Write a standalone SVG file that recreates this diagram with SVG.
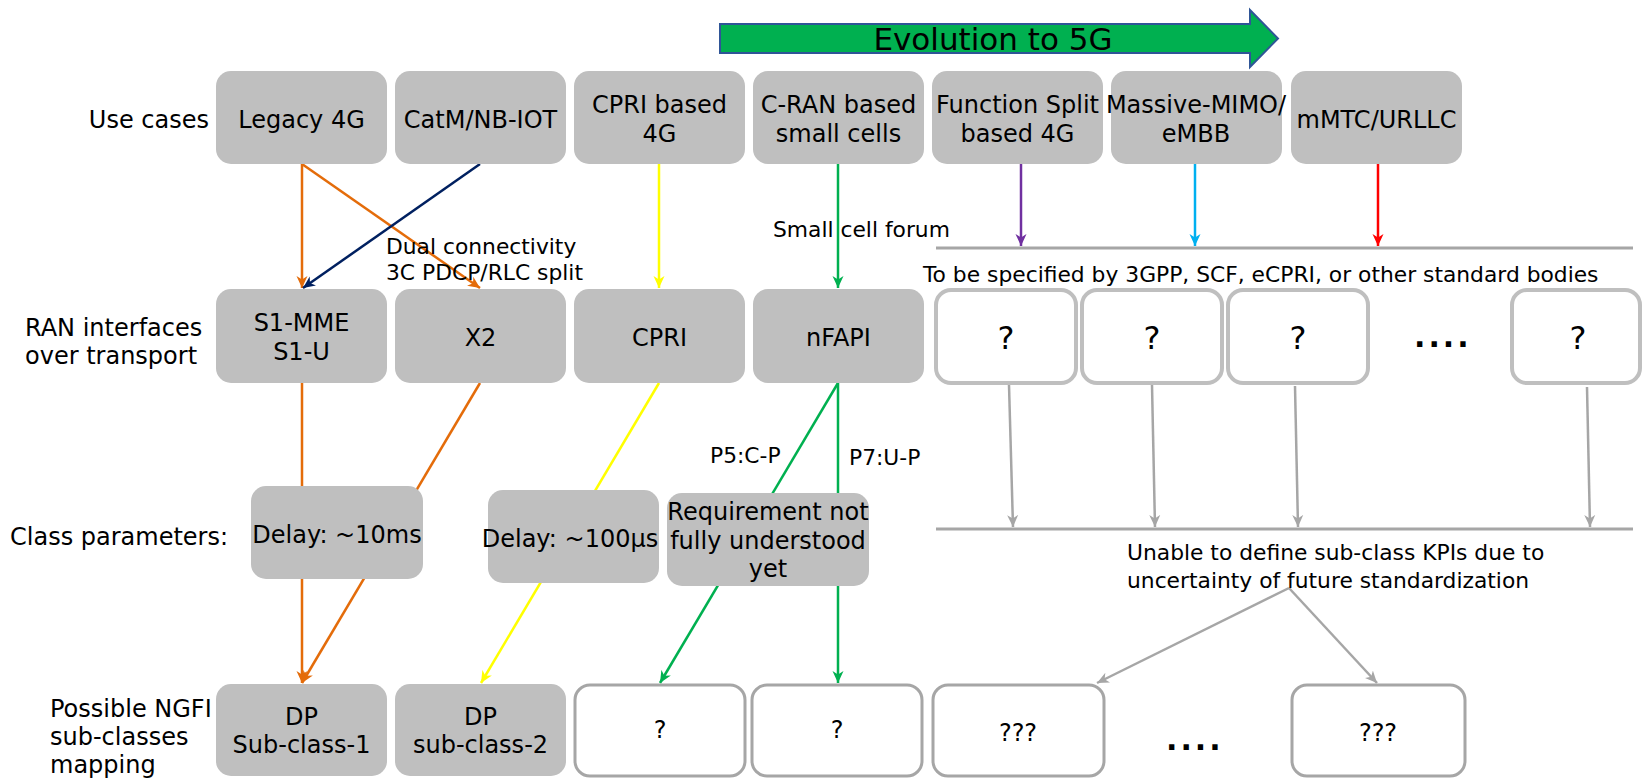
<svg xmlns="http://www.w3.org/2000/svg" width="1643" height="779" viewBox="0 0 1643 779">
<defs>
<style>
text{font-family:"DejaVu Sans",Verdana,sans-serif;fill:#000}
.t{font-size:24px}
.s{font-size:21.8px}
.c{text-anchor:middle}
.g{fill:#bfbfbf}
.w2{fill:#fff;stroke:#bfbfbf;stroke-width:4}
.w4{fill:#fff;stroke:#a6a6a6;stroke-width:3}
.ln{fill:none;stroke-width:2.5}
.dots{font-size:30px;font-weight:bold;letter-spacing:3px}
</style>
<marker id="aO" markerWidth="12" markerHeight="12" refX="12" refY="6" orient="auto" markerUnits="userSpaceOnUse"><path d="M0,0.5 L12,6 L0,11.5 L3.5,6 z" fill="#e46c0a"/></marker>
<marker id="aN" markerWidth="12" markerHeight="12" refX="12" refY="6" orient="auto" markerUnits="userSpaceOnUse"><path d="M0,0.5 L12,6 L0,11.5 L3.5,6 z" fill="#002060"/></marker>
<marker id="aY" markerWidth="12" markerHeight="12" refX="12" refY="6" orient="auto" markerUnits="userSpaceOnUse"><path d="M0,0.5 L12,6 L0,11.5 L3.5,6 z" fill="#ffff00"/></marker>
<marker id="aG" markerWidth="12" markerHeight="12" refX="12" refY="6" orient="auto" markerUnits="userSpaceOnUse"><path d="M0,0.5 L12,6 L0,11.5 L3.5,6 z" fill="#00b050"/></marker>
<marker id="aP" markerWidth="12" markerHeight="12" refX="12" refY="6" orient="auto" markerUnits="userSpaceOnUse"><path d="M0,0.5 L12,6 L0,11.5 L3.5,6 z" fill="#7030a0"/></marker>
<marker id="aC" markerWidth="12" markerHeight="12" refX="12" refY="6" orient="auto" markerUnits="userSpaceOnUse"><path d="M0,0.5 L12,6 L0,11.5 L3.5,6 z" fill="#00b0f0"/></marker>
<marker id="aR" markerWidth="12" markerHeight="12" refX="12" refY="6" orient="auto" markerUnits="userSpaceOnUse"><path d="M0,0.5 L12,6 L0,11.5 L3.5,6 z" fill="#ff0000"/></marker>
<marker id="aK" markerWidth="12" markerHeight="12" refX="12" refY="6" orient="auto" markerUnits="userSpaceOnUse"><path d="M0,0.5 L12,6 L0,11.5 L3.5,6 z" fill="#a6a6a6"/></marker>
</defs>
<rect width="1643" height="779" fill="#fff"/>

<g id="evolution">
<polygon points="720,24 1250,24 1250,10 1278,38.5 1250,67 1250,53 720,53" fill="#00b050" stroke="#2f5597" stroke-width="2"/>
<text x="993" y="50" class="c" style="font-size:31px">Evolution to 5G</text>
</g>

<g id="row-labels" class="t">
<text x="209" y="128" text-anchor="end">Use cases</text>
<text x="25" y="336">RAN interfaces</text>
<text x="25" y="364">over transport</text>
<text x="10" y="545">Class parameters:</text>
<text x="50" y="717">Possible NGFI</text>
<text x="50" y="745">sub-classes</text>
<text x="50" y="773">mapping</text>
</g>

<g id="guides" stroke="#a6a6a6" stroke-width="3">
<line x1="936" y1="248" x2="1633" y2="248"/>
<line x1="936" y1="529" x2="1633" y2="529"/>
</g>

<g id="connectors">
<line class="ln" x1="302" y1="164" x2="302" y2="288" stroke="#e46c0a" marker-end="url(#aO)"/>
<line class="ln" x1="302" y1="164" x2="480" y2="288" stroke="#e46c0a" marker-end="url(#aO)"/>
<line class="ln" x1="480" y1="164" x2="303" y2="288" stroke="#002060" marker-end="url(#aN)"/>
<line class="ln" x1="659" y1="164" x2="659" y2="288" stroke="#ffff00" marker-end="url(#aY)"/>
<line class="ln" x1="838" y1="164" x2="838" y2="288" stroke="#00b050" marker-end="url(#aG)"/>
<line class="ln" x1="1021" y1="164" x2="1021" y2="246" stroke="#7030a0" marker-end="url(#aP)"/>
<line class="ln" x1="1195" y1="164" x2="1195" y2="246" stroke="#00b0f0" marker-end="url(#aC)"/>
<line class="ln" x1="1378" y1="164" x2="1378" y2="246" stroke="#ff0000" marker-end="url(#aR)"/>

<line class="ln" x1="1009" y1="385" x2="1013" y2="527" stroke="#a6a6a6" marker-end="url(#aK)"/>
<line class="ln" x1="1152" y1="385" x2="1155" y2="527" stroke="#a6a6a6" marker-end="url(#aK)"/>
<line class="ln" x1="1295" y1="386" x2="1298" y2="527" stroke="#a6a6a6" marker-end="url(#aK)"/>
<line class="ln" x1="1587" y1="387" x2="1590" y2="527" stroke="#a6a6a6" marker-end="url(#aK)"/>

<line class="ln" x1="302" y1="383" x2="302" y2="683" stroke="#e46c0a" marker-end="url(#aO)"/>
<line class="ln" x1="480" y1="383" x2="302" y2="683" stroke="#e46c0a" marker-end="url(#aO)"/>
<line class="ln" x1="659" y1="383" x2="481" y2="683" stroke="#ffff00" marker-end="url(#aY)"/>
<line class="ln" x1="838" y1="383" x2="660" y2="683" stroke="#00b050" marker-end="url(#aG)"/>
<line class="ln" x1="838" y1="383" x2="838" y2="683" stroke="#00b050" marker-end="url(#aG)"/>

<line class="ln" x1="1289" y1="588" x2="1097" y2="683" stroke="#a6a6a6" marker-end="url(#aK)"/>
<line class="ln" x1="1289" y1="588" x2="1377" y2="683" stroke="#a6a6a6" marker-end="url(#aK)"/>

<g class="s">
<text x="773" y="237">Small cell forum</text>
<text x="386" y="254">Dual connectivity</text>
<text x="386" y="280">3C PDCP/RLC split</text>
<text x="923" y="282">To be specified by 3GPP, SCF, eCPRI, or other standard bodies</text>
<text x="710" y="463">P5:C-P</text>
<text x="849" y="465">P7:U-P</text>
<text x="1127" y="560">Unable to define sub-class KPIs due to</text>
<text x="1127" y="588">uncertainty of future standardization</text>
</g>
</g>

<g id="uc-legacy4g"><rect class="g" x="216" y="71" width="171" height="93" rx="15"/><text class="t c" x="301.5" y="128">Legacy 4G</text></g>
<g id="uc-catm"><rect class="g" x="395" y="71" width="171" height="93" rx="15"/><text class="t c" x="480.5" y="128">CatM/NB-IOT</text></g>
<g id="uc-cpri4g"><rect class="g" x="574" y="71" width="171" height="93" rx="15"/><text class="t c" x="659.5" y="113">CPRI based</text><text class="t c" x="659.5" y="142">4G</text></g>
<g id="uc-cran"><rect class="g" x="753" y="71" width="171" height="93" rx="15"/><text class="t c" x="838.5" y="113">C-RAN based</text><text class="t c" x="838.5" y="142">small cells</text></g>
<g id="uc-fsplit"><rect class="g" x="932" y="71" width="171" height="93" rx="15"/><text class="t c" x="1017.5" y="113">Function Split</text><text class="t c" x="1017.5" y="142">based 4G</text></g>
<g id="uc-mmimo"><rect class="g" x="1111" y="71" width="171" height="93" rx="15"/><text class="t c" x="1196" y="113">Massive-MIMO/</text><text class="t c" x="1196" y="142">eMBB</text></g>
<g id="uc-mmtc"><rect class="g" x="1291" y="71" width="171" height="93" rx="15"/><text class="t c" x="1376.5" y="128">mMTC/URLLC</text></g>

<g id="ri-s1"><rect class="g" x="216" y="289" width="171" height="94" rx="15"/><text class="t c" x="301.5" y="331">S1-MME</text><text class="t c" x="301.5" y="360">S1-U</text></g>
<g id="ri-x2"><rect class="g" x="395" y="289" width="171" height="94" rx="15"/><text class="t c" x="480.5" y="346">X2</text></g>
<g id="ri-cpri"><rect class="g" x="574" y="289" width="171" height="94" rx="15"/><text class="t c" x="659.5" y="346">CPRI</text></g>
<g id="ri-nfapi"><rect class="g" x="753" y="289" width="171" height="94" rx="15"/><text class="t c" x="838.5" y="346">nFAPI</text></g>
<g id="ri-q1"><rect class="w2" x="936" y="290" width="140" height="93" rx="15"/><text class="c" x="1006" y="349" style="font-size:32px">?</text></g>
<g id="ri-q2"><rect class="w2" x="1082" y="290" width="140" height="93" rx="15"/><text class="c" x="1152" y="349" style="font-size:32px">?</text></g>
<g id="ri-q3"><rect class="w2" x="1228" y="290" width="140" height="93" rx="15"/><text class="c" x="1298" y="349" style="font-size:32px">?</text></g>
<g id="ri-dots"><text class="dots" x="1414" y="347">....</text></g>
<g id="ri-q5"><rect class="w2" x="1512" y="290" width="128" height="93" rx="15"/><text class="c" x="1578" y="349" style="font-size:32px">?</text></g>

<g id="cp-10ms"><rect class="g" x="251" y="486" width="172" height="93" rx="15"/><text class="t c" x="337" y="543">Delay: ~10ms</text></g>
<g id="cp-100us"><rect class="g" x="488" y="490" width="171" height="93" rx="15"/><text class="t c" x="570" y="547">Delay: ~100µs</text></g>
<g id="cp-req"><rect class="g" x="667" y="493" width="202" height="93" rx="15"/><text class="t c" x="768" y="520">Requirement not</text><text class="t c" x="768" y="549">fully understood</text><text class="t c" x="768" y="577">yet</text></g>

<g id="ng-dp1"><rect class="g" x="216" y="684" width="171" height="92" rx="15"/><text class="t c" x="301.5" y="725">DP</text><text class="t c" x="301.5" y="753">Sub-class-1</text></g>
<g id="ng-dp2"><rect class="g" x="395" y="684" width="171" height="92" rx="15"/><text class="t c" x="480.5" y="725">DP</text><text class="t c" x="480.5" y="753">sub-class-2</text></g>
<g id="ng-q1"><rect class="w4" x="575" y="685" width="170" height="91" rx="15"/><text class="t c" x="660" y="738">?</text></g>
<g id="ng-q2"><rect class="w4" x="752" y="685" width="170" height="91" rx="15"/><text class="t c" x="837" y="738">?</text></g>
<g id="ng-q3"><rect class="w4" x="933" y="685" width="171" height="91" rx="15"/><text class="t c" x="1018" y="741">???</text></g>
<g id="ng-dots"><text class="dots" x="1166" y="750">....</text></g>
<g id="ng-q4"><rect class="w4" x="1292" y="685" width="173" height="91" rx="15"/><text class="t c" x="1378" y="741">???</text></g>
</svg>
